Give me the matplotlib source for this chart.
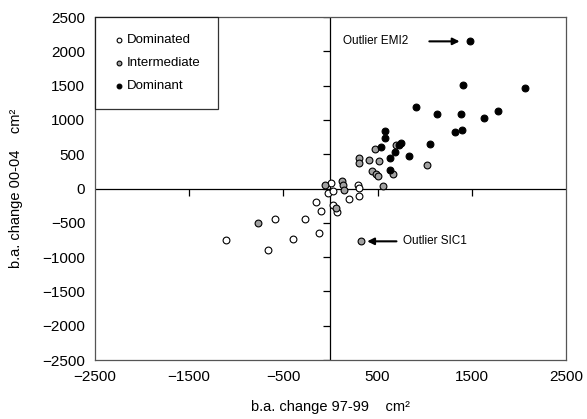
import matplotlib
matplotlib.use("Agg")
import matplotlib.pyplot as plt
import numpy as np

plt.rcParams['font.family'] = ['Liberation Sans', 'DejaVu Sans']

# basal area change, cm2 (x: 97-99, y: 00-04)
dominated_x = [-1109, -667, -592, -398, -271, -122, -151, -101, -27, 2, 27, 23, 66, 196, 295, 303, 303]
dominated_y = [-750, -892, -443, -731, -443, -648, -195, -322, -63, 77, -34, -244, -346, -146, 44, 10, -102]

intermediate_x = [-773, -55, 55, 126, 136, 145, 320, 303, 303, 412, 472, 444, 478, 510, 508, 660, 695, 1028, 554]
intermediate_y = [-507, 48, -283, 115, 48, -22, -770, 439, 375, 414, 582, 258, 215, 398, 180, 215, 633, 336, 42]

dominant_x = [1477, 1403, 2061, 908, 1134, 1389, 1630, 1775, 1318, 1393, 579, 579, 536, 1053, 748, 730, 685, 632, 830, 632]
dominant_y = [2145, 1516, 1472, 1189, 1082, 1092, 1028, 1136, 823, 852, 838, 731, 604, 643, 668, 629, 531, 443, 468, 263]

x_ticklabels = [-2500, -1500, -500, 500, 1500, 2500]
y_ticklabels = list(range(-2500, 2501, 500))


def main():
    fig = plt.figure(figsize=(5.87, 4.19), dpi=100)
    pos = [0.1618, 0.1408, 0.8024, 0.8186]
    ax = fig.add_axes(pos)

    ax.set_xlim(-2500, 2500)
    ax.set_ylim(-2500, 2500)

    # outer frame with labels, no tick marks
    for sp in ax.spines.values():
        sp.set_color('#555555')
        sp.set_linewidth(0.9)
    ax.set_xticks(x_ticklabels)
    ax.set_yticks(y_ticklabels)
    ax.tick_params(length=0, labelsize=11, pad=7)

    # axes lines crossing at zero, with small tick marks
    ax.axhline(0, color='black', lw=0.9, zorder=1)
    ax.axvline(0, color='black', lw=0.9, zorder=1)
    x_marks = [-1500, -500, 500, 1500]
    ax.plot(x_marks, np.zeros(len(x_marks)), ls='none', marker=3, ms=5,
            mew=0.9, color='black', zorder=1)   # marker 3 = tick down
    ax.plot(np.zeros(len(y_ticklabels)), y_ticklabels, ls='none', marker=0, ms=5,
            mew=0.9, color='black', zorder=1)   # marker 0 = tick left

    kw = dict(s=24, edgecolors='black', linewidths=0.8, zorder=3)
    ax.scatter(dominated_x, dominated_y, c='white', label='Dominated', **kw)
    ax.scatter(intermediate_x, intermediate_y, c='#a0a0a0', label='Intermediate', **kw)
    ax.scatter(dominant_x, dominant_y, c='black', label='Dominant', **kw)

    # outlier notes
    ax.annotate('', xy=(1400, 2145), xytext=(1020, 2145),
                arrowprops=dict(arrowstyle='-|>', color='black', lw=1.5, mutation_scale=10))
    ax.text(130, 2145, 'Outlier EMI2', fontsize=8.5, va='center', ha='left')
    ax.annotate('', xy=(360, -770), xytext=(730, -770),
                arrowprops=dict(arrowstyle='-|>', color='black', lw=1.5, mutation_scale=10))
    ax.text(770, -770, 'Outlier SIC1', fontsize=8.5, va='center', ha='left')

    leg = ax.legend(loc='upper left', borderaxespad=0, fontsize=9.5, frameon=True,
                    fancybox=False, edgecolor='black', markerscale=0.7,
                    handletextpad=0.1, borderpad=1.3, labelspacing=0.8,
                    handlelength=1.0)
    leg.get_frame().set_linewidth(0.9)

    ax.set_xlabel('b.a. change 97-99    cm²', fontsize=10.5, labelpad=12)
    ax.set_ylabel('b.a. change 00-04    cm²', fontsize=10.5, labelpad=14)

    fig.savefig('out.png', dpi=100)


if __name__ == '__main__':
    main()
